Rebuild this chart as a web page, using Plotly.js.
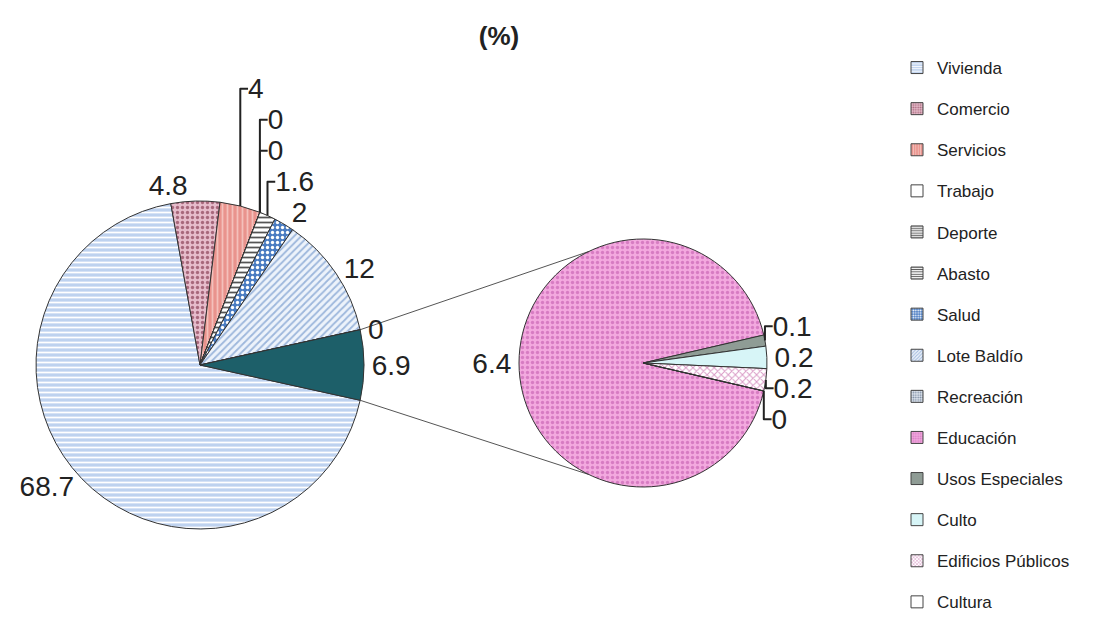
<!DOCTYPE html>
<html>
<head>
<meta charset="utf-8">
<script src="https://cdn.plot.ly/plotly-3.0.1.min.js"></script>
<style>html,body{margin:0;padding:0;background:#fff;}#chart{width:1102px;height:620px;}</style>
</head>
<body>
<div id="chart"></div>
<script>
// ---- data ----
const mainLabels = ["Vivienda", "Comercio", "Servicios", "Trabajo", "Deporte", "Abasto", "Salud", "Lote Baldío", "Recreación", "Otros"];
const mainValues = [68.7, 4.8, 4, 0, 0, 1.6, 2, 12, 0, 6.9];
const subLabels = ["Educación", "Usos Especiales", "Culto", "Edificios Públicos", "Cultura"];
const subValues = [6.4, 0.1, 0.2, 0.2, 0];
const legendLabels = ["Vivienda", "Comercio", "Servicios", "Trabajo", "Deporte", "Abasto", "Salud", "Lote Baldío", "Recreación", "Educación", "Usos Especiales", "Culto", "Edificios Públicos", "Cultura"];
const titleText = "(%)";

// ---- styles ----
const W = 1102, H = 620;
const styleOf = {
  "Vivienda":          {bg: "#bed2ef", fg: "#ffffff", shape: "-"},
  "Comercio":          {bg: "#e6bccb", fg: "#a8687c", shape: "."},
  "Servicios":         {bg: "#e9938d", fg: "#f4c0bb", shape: "|"},
  "Trabajo":           {bg: "#ffffff", fg: "#ffffff", shape: ""},
  "Deporte":           {bg: "#e6e6e6", fg: "#777777", shape: "-"},
  "Abasto":            {bg: "#ffffff", fg: "#555555", shape: "-"},
  "Salud":             {bg: "#4a7cc2", fg: "#ffffff", shape: "."},
  "Lote Baldío":       {bg: "#edf3fb", fg: "#9db7dc", shape: "/"},
  "Recreación":        {bg: "#dfe6ef", fg: "#7a8aa0", shape: "."},
  "Otros":             {bg: "#1d5f69", fg: "#1d5f69", shape: ""},
  "Educación":         {bg: "#f3a9df", fg: "#d77cc3", shape: "."},
  "Usos Especiales":   {bg: "#8f9c95", fg: "#8f9c95", shape: ""},
  "Culto":             {bg: "#d7f5f7", fg: "#d7f5f7", shape: ""},
  "Edificios Públicos":{bg: "#ffffff", fg: "#d99ac6", shape: "x"},
  "Cultura":           {bg: "#ffffff", fg: "#ffffff", shape: ""}
};
function colorsFor(labels){ return labels.map(l => styleOf[l].bg); }
function patternFor(labels){
  return {
    shape: labels.map(l => styleOf[l].shape),
    fgcolor: labels.map(l => styleOf[l].fg),
    bgcolor: labels.map(l => styleOf[l].bg),
    size: 5, solidity: 0.35, fillmode: "replace"
  };
}

// geometry (pixels)
const main = {cx: 200, cy: 365, r: 164};
const sub  = {cx: 643, cy: 363, r: 124};
function domainOf(p){
  return {x: [(p.cx - p.r)/W, (p.cx + p.r)/W], y: [1 - (p.cy + p.r)/H, 1 - (p.cy - p.r)/H]};
}
const sum = a => a.reduce((s,v)=>s+v,0);
const mainTotal = sum(mainValues);
const otherVal = mainValues[mainValues.length-1];
// rotate so that the "other" slice (last) is centred at 3 o'clock
const mainRotation = 90 + otherVal / mainTotal * 180;
const subTotal = sum(subValues);
const subRotation = 90 + (subTotal - subValues[0]) / subTotal * 180;

const font = "Liberation Sans, Arial, sans-serif";
const lineStyle = {color: "#333333", width: 1};
const labelFont = {family: font, size: 28, color: "#222"};

const traces = [
  {
    type: "pie", labels: mainLabels, values: mainValues, sort: false, direction: "clockwise",
    rotation: mainRotation, domain: domainOf(main), showlegend: false,
    marker: {colors: colorsFor(mainLabels), pattern: patternFor(mainLabels), line: lineStyle},
    textposition: "outside", texttemplate: "%{value}", hoverinfo: "label+value",
    outsidetextfont: labelFont
  },
  {
    type: "pie", labels: subLabels, values: subValues, sort: false, direction: "clockwise",
    rotation: subRotation, domain: domainOf(sub), showlegend: false,
    marker: {colors: colorsFor(subLabels), pattern: patternFor(subLabels), line: lineStyle},
    textposition: "outside", texttemplate: "%{value}", hoverinfo: "label+value",
    outsidetextfont: labelFont
  }
];
// legend proxies
legendLabels.forEach((l, i) => {
  const s = styleOf[l];
  traces.push({
    type: "bar", x: [null], y: [null], name: l, legendgroup: "g" + i, showlegend: true,
    marker: {color: s.bg, line: {color: "#444", width: 1},
      pattern: {shape: s.shape, fgcolor: s.fg, bgcolor: s.bg, size: 3, solidity: 0.4}},
    hoverinfo: "skip"
  });
});

// connector lines from "other" slice edges to secondary pie
const a1 = (mainRotation - otherVal / mainTotal * 360) * Math.PI / 180; // top edge of other slice
const a2 = mainRotation * Math.PI / 180;                              // bottom edge
const pt = (c, ang) => [c.cx + c.r * Math.sin(ang), c.cy - c.r * Math.cos(ang)];
const p1 = pt(main, a1), p2 = pt(main, a2);
const q1 = pt(sub, -26 * Math.PI / 180), q2 = pt(sub, 206 * Math.PI / 180);
const toPaper = p => [p[0] / W, 1 - p[1] / H];
const shapes = [[p1, q1], [p2, q2]].map(([a, b]) => {
  const A = toPaper(a), B = toPaper(b);
  return {type: "line", xref: "paper", yref: "paper", x0: A[0], y0: A[1], x1: B[0], y1: B[1],
          line: {color: "#555", width: 1}, layer: "below"};
});

const layout = {
  width: W, height: H,
  margin: {l: 0, r: 0, t: 0, b: 0},
  paper_bgcolor: "#fff", plot_bgcolor: "rgba(0,0,0,0)",
  title: {text: "<b>" + titleText + "</b>", x: 499 / W, xanchor: "center", y: 1 - 36 / H, yanchor: "middle",
          font: {family: font, size: 26, color: "#222"}},
  xaxis: {visible: false, domain: [0.99, 1]}, yaxis: {visible: false, domain: [0.99, 1]},
  showlegend: true,
  legend: {x: 897 / W, xanchor: "left", y: 1 - 50 / H, yanchor: "top",
           font: {family: font, size: 17, color: "#222"}, traceorder: "grouped",
           tracegroupgap: 16, itemwidth: 30, bgcolor: "rgba(0,0,0,0)"},
  shapes: shapes
};

Plotly.newPlot("chart", traces, layout, {displayModeBar: false, staticPlot: true});
</script>
</body>
</html>
